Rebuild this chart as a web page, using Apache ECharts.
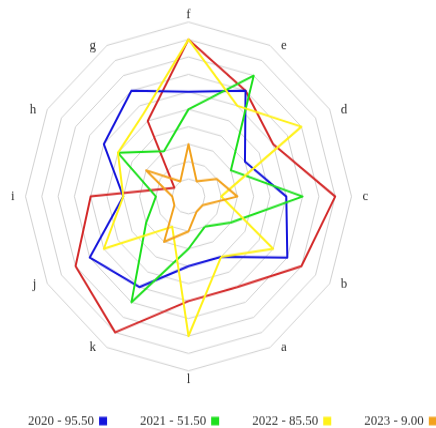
<!DOCTYPE html>
<html><head><meta charset="utf-8">
<script src="https://cdn.jsdelivr.net/npm/echarts@6/dist/echarts.min.js"></script>
<style>
html,body{margin:0;padding:0;background:#fff;overflow:hidden;}
#wrap{width:436px;height:428px;overflow:hidden;position:relative;}
#chart{width:436px;height:400px;transform:scaleY(1.07);transform-origin:0 0;}
</style></head><body>
<div id="wrap"><div id="chart"></div></div>
<script>
const indicators = ['a','b','c','d','e','f','g','h','i','j','k','l'];
const seriesNames = ['2020 - 95.50','2021 - 51.50','2022 - 85.50','2023 - 9.00'];
const hiddenName = 'other';
const valuesRed  = [6,8,9,6,7,9,5,1,6,8,9,6];
const values2020 = [4,7,6,4,7,6,7,6,4,7,6,4];
const values2021 = [2,3,7,3,8,5,3,5,2,3,7,3];
const values2022 = [4,6,2,8,6,9,5.5,5,4,6,2,8];
const values2023 = [1,1,3,2,1,3,1,3,1,1,3,2];
const axisMax = 10;

const colRed = '#d42a2a', colBlue = '#1414dc', colGreen = '#1ee01e', colYellow = '#fff21a', colOrange = '#f2a21e';
const serif = 'Liberation Serif';

function mk(name, vals, color) {
  return {
    type: 'radar', name: name, symbol: 'none',
    itemStyle: { color: color },
    lineStyle: { color: color, width: 2 },
    data: [{ name: name, value: vals }]
  };
}

const chart = echarts.init(document.getElementById('chart'), null, { renderer: 'canvas' });
chart.setOption({
  animation: false,
  backgroundColor: '#fff',
  legend: {
    data: seriesNames,
    left: 23, top: 382, width: 600,
    align: 'right', icon: 'rect', itemWidth: 8, itemHeight: 8, itemGap: 33,
    textStyle: { fontFamily: serif, fontSize: 13, color: '#333' }
  },
  radar: {
    center: [188.5, 183.6],
    radius: 163,
    startAngle: -60,
    splitNumber: 10,
    shape: 'polygon',
    nameGap: 0,
    axisName: { color: '#333', fontFamily: serif, fontSize: 13, padding: [1, 11, 1, 11] },
    axisLine: { show: false },
    axisTick: { show: false },
    splitArea: { show: false },
    splitLine: { lineStyle: { color: '#d2d2d2', width: 1 } },
    indicator: indicators.map(n => ({ name: n, min: 0, max: axisMax }))
  },
  series: [
    mk(hiddenName, valuesRed, colRed),
    mk(seriesNames[0], values2020, colBlue),
    mk(seriesNames[1], values2021, colGreen),
    mk(seriesNames[2], values2022, colYellow),
    mk(seriesNames[3], values2023, colOrange)
  ]
});
</script>
</body></html>
